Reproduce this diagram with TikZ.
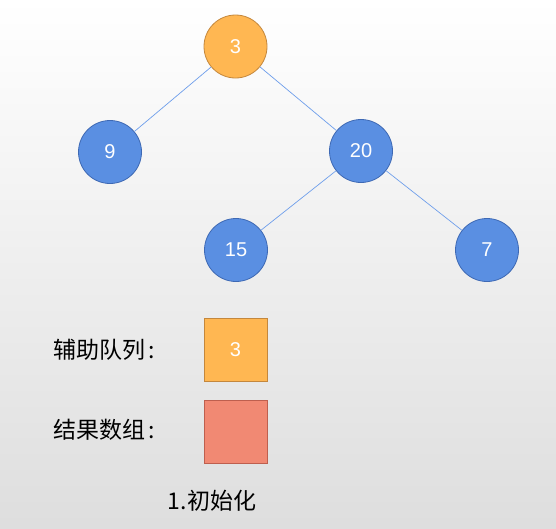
\documentclass[tikz,border=0pt]{standalone}
\usepackage{fontspec}
\setmainfont{Liberation Sans}
\newfontfamily\cjk{Noto Sans CJK SC}
\definecolor{orfill}{RGB}{255,183,82}
\definecolor{ordraw}{RGB}{196,135,60}
\definecolor{blfill}{RGB}{90,143,226}
\definecolor{bldraw}{RGB}{62,105,180}
\definecolor{rdfill}{RGB}{241,137,115}
\definecolor{rddraw}{RGB}{190,95,78}
\definecolor{edgecol}{RGB}{110,158,235}
\tikzset{
  treenode/.style={circle, minimum size=63pt, inner sep=0pt, line width=0.8pt, text=white, font=\fontsize{20}{24}\selectfont},
  bluenode/.style={treenode, fill=blfill, draw=bldraw},
  orangenode/.style={treenode, fill=orfill, draw=ordraw},
  cell/.style={rectangle, minimum size=63pt, inner sep=0pt, line width=0.8pt, text=white, font=\fontsize{20}{24}\selectfont},
  label/.style={inner sep=0pt, font=\cjk\fontsize{23}{27}\selectfont},
  edge/.style={draw=edgecol, line width=0.7pt}
}
\begin{document}
\begin{tikzpicture}[x=1pt,y=-1pt]
\useasboundingbox (0,0) rectangle (556,528);
\shade[top color=white, bottom color=black!13] (0,0) rectangle (556,528);
\node[orangenode] (n3) at (235.5,46.5) {3};
\node[bluenode] (n9) at (110,152) {9};
\node[bluenode] (n20) at (361,151) {20};
\node[bluenode] (n15) at (236,250) {15};
\node[bluenode] (n7) at (487,250) {7};
\path[edge] (n3) -- (n9);
\path[edge] (n3) -- (n20);
\path[edge] (n20) -- (n15);
\path[edge] (n20) -- (n7);
\node[cell, fill=orfill, draw=ordraw] (q) at (235.5,349.5) {3};
\node[cell, fill=rdfill, draw=rddraw] (r) at (235.5,431.5) {};
\node[label, anchor=west] (lq) at (53,350) {辅助队列\hspace{3pt}:};
\node[label, anchor=west] (lr) at (53,430) {结果数组\hspace{3pt}:};
\node[label] (cap) at (212,501) {1.初始化};
\end{tikzpicture}
\end{document}
